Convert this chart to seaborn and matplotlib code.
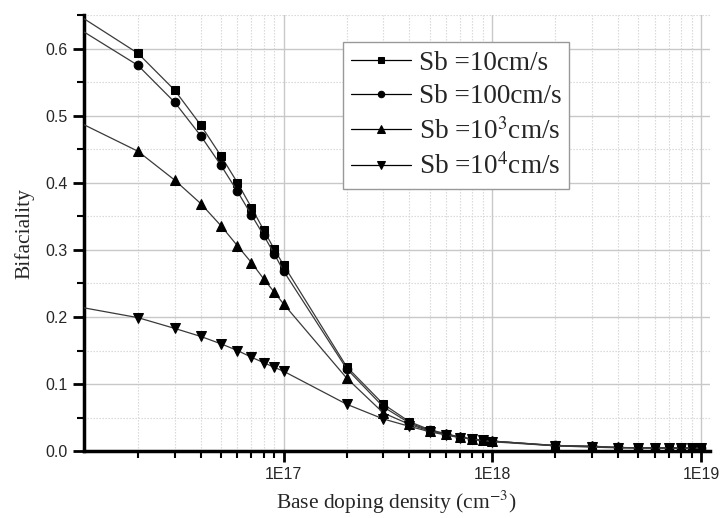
import numpy as np
import pandas as pd
import matplotlib
matplotlib.use("Agg")
import matplotlib.pyplot as plt
import matplotlib.ticker as mticker
import seaborn as sns

# doping density (cm^-3)
doping = [1e16, 2e16, 3e16, 4e16, 5e16, 6e16, 7e16, 8e16, 9e16,
          1e17, 2e17, 3e17, 4e17, 5e17, 6e17, 7e17, 8e17, 9e17,
          1e18, 2e18, 3e18, 4e18, 5e18, 6e18, 7e18, 8e18, 9e18, 1e19]

# bifaciality for each back surface recombination velocity
sb_10 = [0.653, 0.593, 0.538, 0.486, 0.440, 0.400, 0.363, 0.330, 0.301,
         0.277, 0.126, 0.070, 0.044, 0.032, 0.026, 0.021, 0.018, 0.016,
         0.015, 0.0085, 0.0075, 0.0055, 0.005, 0.005, 0.005, 0.0045, 0.0045, 0.0045]
sb_100 = [0.633, 0.575, 0.520, 0.470, 0.426, 0.387, 0.352, 0.322, 0.294,
          0.268, 0.123, 0.066, 0.042, 0.031, 0.025, 0.021, 0.018, 0.016,
          0.015, 0.0085, 0.007, 0.0055, 0.005, 0.005, 0.005, 0.0045, 0.0045, 0.0045]
sb_1e3 = [0.493, 0.447, 0.404, 0.369, 0.336, 0.306, 0.281, 0.257, 0.237,
          0.219, 0.109, 0.057, 0.040, 0.030, 0.025, 0.021, 0.018, 0.016,
          0.015, 0.008, 0.007, 0.0055, 0.005, 0.005, 0.005, 0.0045, 0.0045, 0.0045]
sb_1e4 = [0.216, 0.199, 0.183, 0.171, 0.160, 0.150, 0.140, 0.132, 0.125,
          0.119, 0.070, 0.048, 0.037, 0.029, 0.024, 0.020, 0.018, 0.016,
          0.014, 0.008, 0.006, 0.005, 0.005, 0.0045, 0.0045, 0.0045, 0.0045, 0.0045]

labels = ["Sb =10cm/s", "Sb =100cm/s", "Sb =10$^3$cm/s", "Sb =10$^4$cm/s"]
markers = ["s", "o", "^", "v"]
msizes = [6, 6.2, 7.5, 7.5]

rows = []
for lab, vals in zip(labels, [sb_10, sb_100, sb_1e3, sb_1e4]):
    for x, y in zip(doping, vals):
        rows.append({"doping": x, "bif": y, "series": lab})
df = pd.DataFrame(rows)

sns.set_style("white")
plt.rcParams["mathtext.fontset"] = "stix"

fig = plt.figure(figsize=(7.22, 5.18), dpi=100)
ax = fig.add_axes([0.116, 0.129, 0.867, 0.842])

for lab, m, ms in zip(labels, markers, msizes):
    sub = df[df["series"] == lab]
    sns.lineplot(data=sub, x="doping", y="bif", ax=ax, color="#3a3a3a", lw=0.9,
                 marker=m, markersize=ms, markerfacecolor="black",
                 markeredgecolor="black", label=lab, zorder=3)

ax.set_xscale("log")
ax.set_xlim(1.1e16, 1.1e19)
ax.set_ylim(0, 0.65)

ax.xaxis.set_major_locator(mticker.FixedLocator([1e17, 1e18, 1e19]))
ax.xaxis.set_major_formatter(mticker.FuncFormatter(lambda v, p: "1E%d" % round(np.log10(v))))
ax.xaxis.set_minor_locator(mticker.LogLocator(base=10, subs=np.arange(2, 10)))
ax.xaxis.set_minor_formatter(mticker.NullFormatter())
ax.yaxis.set_major_locator(mticker.MultipleLocator(0.1))
ax.yaxis.set_minor_locator(mticker.MultipleLocator(0.05))
ax.yaxis.set_major_formatter(mticker.FormatStrFormatter("%.1f"))

ax.grid(which="major", color="#c8c8c8", lw=1.0, ls="-")
ax.grid(which="minor", color="#d4d4d4", lw=0.8, ls=(0, (1.2, 1.5)))
ax.set_axisbelow(True)

for s in ["top", "right"]:
    ax.spines[s].set_visible(False)
for s in ["left", "bottom"]:
    ax.spines[s].set_linewidth(2.5)
    ax.spines[s].set_color("black")

ax.tick_params(which="major", direction="out", length=8, width=2, labelsize=11.5,
               left=True, bottom=True, color="black")
ax.tick_params(which="minor", direction="out", length=5, width=1.5,
               left=True, bottom=True, color="black")
for t in ax.get_xticklabels() + ax.get_yticklabels():
    t.set_fontfamily("Liberation Sans")

ax.set_xlabel("Base doping density (cm$^{-3}$)", fontfamily="Liberation Serif",
              fontsize=15.5, labelpad=5)
ax.set_ylabel("Bifaciality", fontfamily="Liberation Serif", fontsize=15.5, labelpad=8)

leg = ax.legend(loc="upper left", bbox_to_anchor=(0.414, 0.937), borderaxespad=0,
                frameon=True, fancybox=False, edgecolor="#999999", framealpha=1,
                prop={"family": "Liberation Serif", "size": 19.5},
                handlelength=2.2, handletextpad=0.3, labelspacing=0.32,
                borderpad=0.3, markerscale=0.75)
leg.get_frame().set_linewidth(1.0)
for h in leg.get_lines():
    h.set_color("black")

fig.savefig("out.png", dpi=100)
